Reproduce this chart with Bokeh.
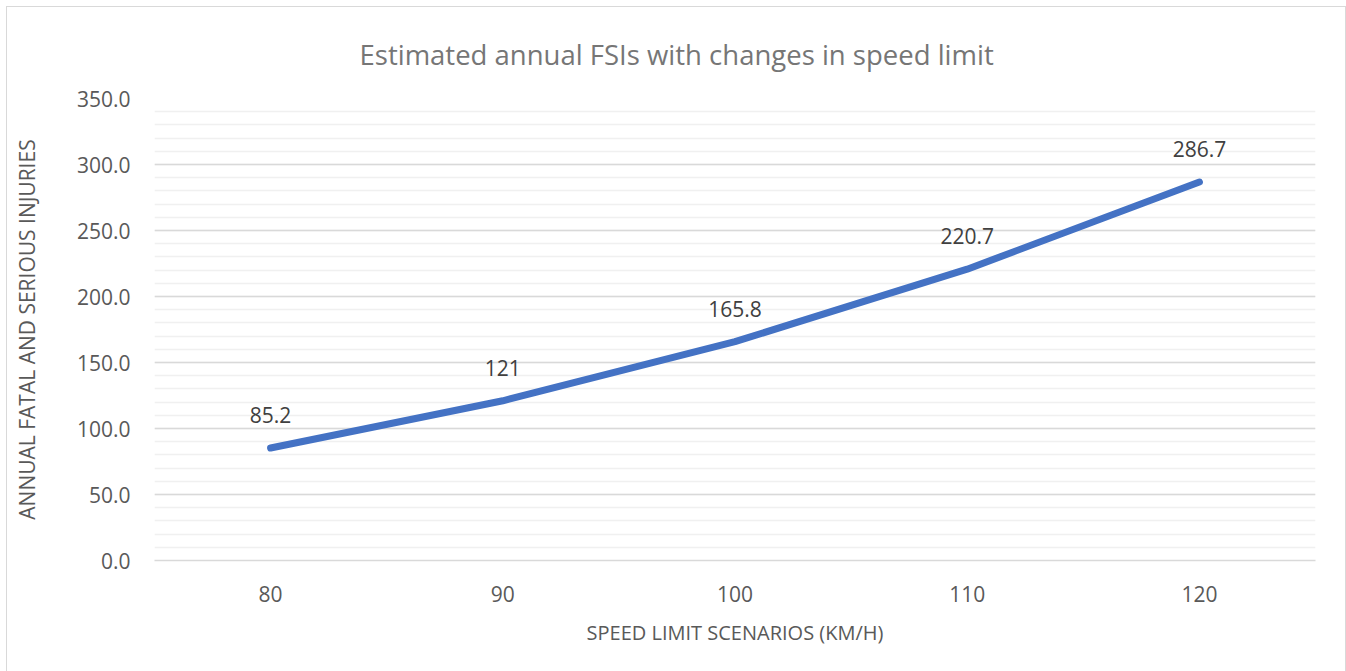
from bokeh.plotting import figure
from bokeh.models import ColumnDataSource, FactorRange, Range1d, SingleIntervalTicker, NumeralTickFormatter
from bokeh.core.properties import value
from bokeh.embed import file_html
from bokeh.resources import INLINE

speeds = ["80", "90", "100", "110", "120"]
fsi = [85.2, 121, 165.8, 220.7, 286.7]
labels = ["85.2", "121", "165.8", "220.7", "286.7"]

title_text = "Estimated annual FSIs with changes in speed limit"
x_title = "SPEED LIMIT SCENARIOS (KM/H)"
y_title = "ANNUAL FATAL AND SERIOUS INJURIES"

src = ColumnDataSource(dict(x=speeds, y=fsi, lab=labels))

p = figure(width=1340, height=668, x_range=FactorRange(*speeds), y_range=Range1d(0, 350),
           output_backend="svg", toolbar_location=None,
           min_border_left=147, min_border_right=32, min_border_top=91, min_border_bottom=115)
p.styles = {"border": "1px solid #d9d9d9", "margin-left": "6px", "margin-top": "6px"}
p.outline_line_color = None
p.background_fill_color = "white"

p.title.text = title_text
p.title.align = "left"
p.title.text_font = "Open Sans"
p.title.text_font_size = "27.5px"
p.title.text_font_style = "normal"
p.title.text_color = "#767676"
p.title.standoff = 52
p.title.offset = 205

p.xgrid.grid_line_color = None
p.ygrid.grid_line_color = "#d9d9d9"
p.ygrid.grid_line_width = 1.3
p.ygrid.minor_grid_line_color = "#f0f0f0"
p.ygrid.minor_grid_line_width = 1.3

p.yaxis.ticker = SingleIntervalTicker(interval=50, num_minor_ticks=5)
p.yaxis.formatter = NumeralTickFormatter(format="0.0")
p.yaxis.axis_line_color = None
p.yaxis.major_tick_line_color = None
p.yaxis.minor_tick_line_color = None
p.yaxis.major_label_text_font = "Open Sans"
p.yaxis.major_label_text_font_size = "21px"
p.yaxis.major_label_text_color = "#595959"
p.yaxis.major_label_standoff = 18
p.yaxis.axis_label = y_title
p.yaxis.axis_label_text_font = "Open Sans"
p.yaxis.axis_label_text_font_size = "21px"
p.yaxis.axis_label_text_font_style = "normal"
p.yaxis.axis_label_text_color = "#595959"
p.yaxis.axis_label_standoff = 33

p.xaxis.axis_line_color = "#d9d9d9"
p.xaxis.axis_line_width = 1.3
p.xaxis.major_tick_line_color = None
p.xaxis.minor_tick_line_color = None
p.xaxis.major_label_text_font = "Open Sans"
p.xaxis.major_label_text_font_size = "21px"
p.xaxis.major_label_text_color = "#595959"
p.xaxis.major_label_standoff = 19
p.xaxis.axis_label = x_title
p.xaxis.axis_label_text_font = "Open Sans"
p.xaxis.axis_label_text_font_size = "20px"
p.xaxis.axis_label_text_font_style = "normal"
p.xaxis.axis_label_text_color = "#595959"
p.xaxis.axis_label_standoff = 14

p.line("x", "y", source=src, line_color="#4472C4", line_width=7, line_cap="round", line_join="round")
p.text("x", "y", text="lab", source=src, text_align="center", text_baseline="middle", y_offset=-33,
       text_font=value("Open Sans"), text_font_size="21px", text_color="#404040")

open("out.html", "w").write(file_html(p, INLINE))
